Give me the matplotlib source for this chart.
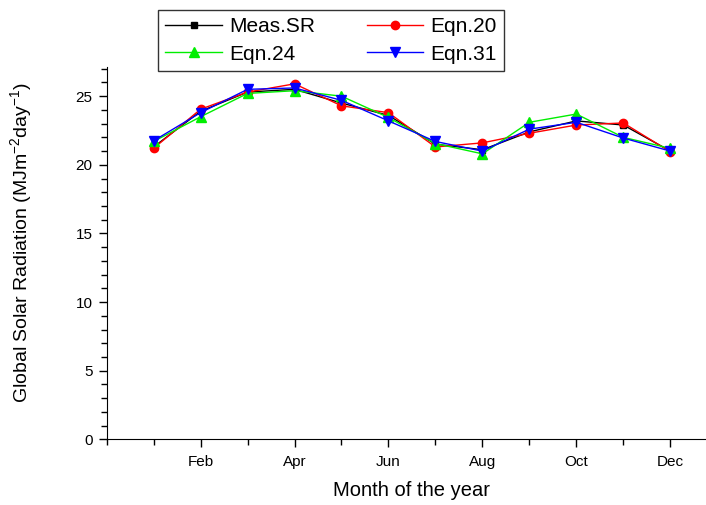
import matplotlib.pyplot as plt
from matplotlib.ticker import MultipleLocator

plt.rcParams['font.family'] = ['Liberation Sans', 'DejaVu Sans']

months = [1, 2, 3, 4, 5, 6, 7, 8, 9, 10, 11, 12]
tick_pos = [2, 4, 6, 8, 10, 12]
tick_labels = ["Feb", "Apr", "Jun", "Aug", "Oct", "Dec"]

meas_sr = [21.3, 23.9, 25.3, 25.5, 24.5, 23.6, 21.5, 21.1, 22.4, 23.2, 22.9, 21.0]
eqn20 = [21.2, 24.05, 25.3, 25.9, 24.3, 23.8, 21.3, 21.6, 22.3, 22.9, 23.05, 20.95]
eqn24 = [21.7, 23.5, 25.2, 25.4, 25.0, 23.45, 21.55, 20.8, 23.1, 23.7, 22.0, 21.2]
eqn31 = [21.75, 23.8, 25.5, 25.6, 24.7, 23.2, 21.7, 21.0, 22.6, 23.1, 21.95, 21.0]

fig = plt.figure(figsize=(7.06, 5.05), dpi=100)
ax = fig.add_axes([0.151, 0.130, 0.865, 0.7366])

l1, = ax.plot(months, meas_sr, color="black", marker="s", markersize=5, linewidth=1, label="Meas.SR")
l2, = ax.plot(months, eqn20, color="red", marker="o", markersize=6, linewidth=1, label="Eqn.20")
l3, = ax.plot(months, eqn24, color="#00ee00", marker="^", markersize=7, linewidth=1, label="Eqn.24")
l4, = ax.plot(months, eqn31, color="blue", marker="v", markersize=7, linewidth=1, label="Eqn.31")

ax.set_xlim(0, 13)
ax.set_ylim(0, 27.1)
ax.set_xticks(tick_pos)
ax.set_xticklabels(tick_labels)
ax.xaxis.set_minor_locator(MultipleLocator(1))
ax.yaxis.set_major_locator(MultipleLocator(5))
ax.yaxis.set_minor_locator(MultipleLocator(1))
ax.tick_params(which="major", direction="out", length=6, width=1)
ax.tick_params(which="minor", direction="out", length=4, width=1)
ax.tick_params(axis="x", labelsize=11, pad=5)
ax.tick_params(axis="y", labelsize=11, pad=4)
for s in ["top", "right"]:
    ax.spines[s].set_visible(False)

ax.set_xlabel("Month of the year", fontsize=14.5, labelpad=9)
ax.set_ylabel("Global Solar Radiation (MJm$^{\\mathregular{-2}}$day$^{\\mathregular{-1}}$)",
              fontsize=14)
ax.yaxis.set_label_coords(-0.118, 0.53)

leg = fig.legend([l1, l3, l2, l4], ["Meas.SR", "Eqn.24", "Eqn.20", "Eqn.31"],
                 loc="upper left", bbox_to_anchor=(0.224, 0.980), ncol=2, fontsize=15,
                 fancybox=False, edgecolor="black", handlelength=2.7, columnspacing=2.5,
                 handletextpad=0.35, borderaxespad=0, labelspacing=0.4, borderpad=0.35)
leg.get_frame().set_linewidth(1)

fig.savefig("out.png", dpi=100)
